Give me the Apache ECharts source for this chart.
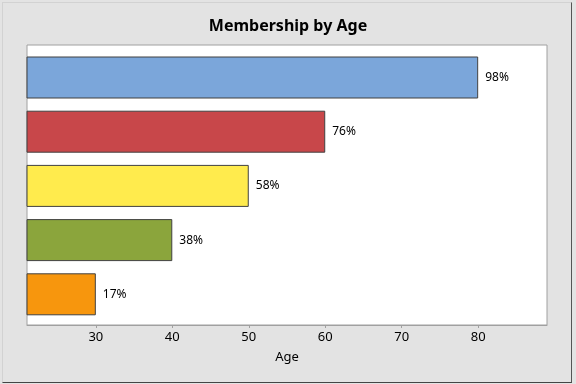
<!DOCTYPE html>
<html>
<head>
<meta charset="utf-8">
<script src="https://cdn.jsdelivr.net/npm/echarts@6/dist/echarts.min.js"></script>
<style>
  html, body { margin: 0; padding: 0; background: #e3e3e3; }
  #wrap { position: relative; width: 576px; height: 384px; background: #e3e3e3; overflow: hidden; }
  #frame { position: absolute; left: 2px; top: 2px; width: 568px; height: 379px;
           border-left: 1px solid #d2d2d2; border-top: 1px solid #d2d2d2;
           border-right: 1px solid #555; border-bottom: 1px solid #444; }
  #chart { position: absolute; left: 0; top: 0; width: 576px; height: 384px; }
</style>
</head>
<body>
<div id="wrap">
  <div id="frame"></div>
  <div id="chart"></div>
</div>
<script>
const titleText = 'Membership by Age';
const xAxisName = 'Age';
const categories = ['Group 1', 'Group 2', 'Group 3', 'Group 4', 'Group 5'];
const ageValues = [80, 60, 50, 40, 30];
const pctLabels = ['98%', '76%', '58%', '38%', '17%'];
const barColors = ['#7BA6DA', '#C8474A', '#FFEB4D', '#8BA53C', '#F7960D'];
const xTicks = [30, 40, 50, 60, 70, 80];
const xMin = 21;
const xMax = 89;

const chart = echarts.init(document.getElementById('chart'), null, { renderer: 'canvas' });

const option = {
  backgroundColor: 'transparent',
  animation: false,
  title: {
    text: titleText,
    left: 'center',
    top: 13,
    textStyle: { fontFamily: 'Noto Sans', fontSize: 16, fontWeight: 'bold', color: '#000' }
  },
  grid: [
    { left: 27, right: 29, top: 45, bottom: 59, show: true, backgroundColor: '#ffffff',
      borderColor: '#a0a0a0', borderWidth: 1, containLabel: false },
    { left: 27, right: 29, top: 50.4, bottom: 62.6, show: false, containLabel: false }
  ],
  xAxis: [
    {
      type: 'value', gridIndex: 0, min: xMin, max: xMax,
      name: xAxisName, nameLocation: 'middle', nameGap: 26,
      nameTextStyle: { fontFamily: 'Noto Sans', fontSize: 13, color: '#000' },
      axisLine: { show: true, lineStyle: { color: '#a0a0a0', width: 1 } },
      axisTick: { show: true, inside: false, length: 3, customValues: xTicks,
                  lineStyle: { color: '#a0a0a0' } },
      axisLabel: { show: true, customValues: xTicks, margin: 6,
                   fontFamily: 'Noto Sans', fontSize: 13, color: '#000' },
      splitLine: { show: false }
    },
    {
      type: 'value', gridIndex: 1, min: xMin, max: xMax, show: false,
      splitLine: { show: false }
    }
  ],
  yAxis: [
    { type: 'value', gridIndex: 0, show: false, splitLine: { show: false } },
    { type: 'category', gridIndex: 1, data: categories, inverse: true, show: false }
  ],
  series: [
    {
      type: 'bar',
      xAxisIndex: 1,
      yAxisIndex: 1,
      barWidth: 42,
      clip: true,
      data: ageValues.map((v, i) => ({
        value: v,
        itemStyle: { color: barColors[i], borderColor: '#404040', borderWidth: 1 }
      })),
      label: {
        show: true,
        position: 'right',
        distance: 7,
        fontFamily: 'Noto Sans',
        fontSize: 12,
        color: '#000',
        formatter: (p) => pctLabels[p.dataIndex]
      }
    }
  ]
};

chart.setOption(option);
</script>
</body>
</html>
